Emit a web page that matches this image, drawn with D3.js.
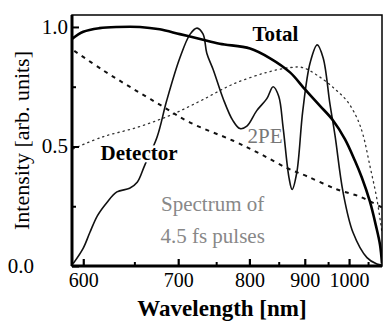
<!DOCTYPE html>
<html>
<head>
<meta charset="utf-8">
<script src="https://cdn.jsdelivr.net/npm/d3@7"></script>
<style>
  body { margin: 0; background: #fff; }
  text { font-family: "Liberation Serif", "DejaVu Serif", serif; }
</style>
</head>
<body>
<div id="data-container"></div>
<script>
// Data (wavelength in nm, intensity in arb. units)
const totalWl = [590, 600, 615, 632, 656, 678, 702, 728, 755, 801, 834, 871, 900, 932, 961, 990, 1015, 1033, 1055, 1072, 1084, 1090]
const totalI  = [0.95, 0.98, 0.995, 1.0, 1.0, 0.99, 0.97, 0.95, 0.93, 0.91, 0.87, 0.81, 0.74, 0.67, 0.61, 0.53, 0.44, 0.37, 0.27, 0.17, 0.09, 0.01]

const detWl = [592, 618, 645, 678, 715, 774, 817, 865, 905, 971, 1028, 1090]
const detI  = [0.90, 0.82, 0.75, 0.675, 0.60, 0.525, 0.47, 0.41, 0.375, 0.32, 0.29, 0.245]

const tpeWl = [591, 618, 653, 690, 728, 774, 829, 871, 896, 932, 966, 995, 1020, 1036, 1055, 1075, 1090]
const tpeI  = [0.49, 0.54, 0.58, 0.63, 0.69, 0.76, 0.81, 0.83, 0.83, 0.79, 0.74, 0.69, 0.62, 0.55, 0.42, 0.28, 0.14]

const specWl = [591, 600, 606, 613, 622, 632, 645, 653, 661, 675, 686, 702, 715, 724, 732, 737, 746, 760, 774, 785, 796, 812, 829, 840, 850, 858, 869, 875, 884, 896, 911, 926, 939, 954, 966, 985, 1010, 1047, 1075, 1090]
const specI  = [0.01, 0.075, 0.14, 0.21, 0.265, 0.31, 0.325, 0.35, 0.42, 0.54, 0.69, 0.87, 0.97, 0.995, 0.97, 0.89, 0.82, 0.70, 0.61, 0.575, 0.585, 0.65, 0.70, 0.75, 0.71, 0.58, 0.37, 0.32, 0.39, 0.65, 0.85, 0.925, 0.87, 0.68, 0.545, 0.31, 0.14, 0.035, 0.008, 0.004]

const majorTicks = [600, 700, 800, 900, 1000]
const minorTicks = [650, 750, 850, 950, 1050]
const yMajor = [0.0, 0.5, 1.0]
const yMinor = [0.25, 0.75]

const svgWidth = 384, svgHeight = 322
const margin = {top: 15, right: 2, bottom: 56, left: 72}
const width = svgWidth - margin.left - margin.right,
      height = svgHeight - margin.top - margin.bottom

var svg = d3.select("#data-container").append("svg")
  .attr("width", svgWidth)
  .attr("height", svgHeight)

var g = svg.append("g")
  .attr("transform", "translate(" + margin.left + "," + margin.top + ")")

// x axis is linear in frequency (1/wavelength), so the scale works on 1000/nm
var xf = d3.scaleLinear().domain([1000 / 590, 1000 / 1090]).range([0, width])
var x = function(wl) { return xf(1000 / wl) }
var y = d3.scaleLinear().domain([0, 1.05]).range([height, 0])

g.append("clipPath").attr("id", "clip")
  .append("rect").attr("width", width).attr("height", height)

var line = d3.line()
  .x(function(d) { return x(d[0]) })
  .y(function(d) { return y(d[1]) })
  .curve(d3.curveCatmullRom.alpha(0.5))

function pairs(a, b) { return a.map(function(v, i) { return [v, b[i]] }) }

var curves = g.append("g").attr("clip-path", "url(#clip)")

// 2PE (dotted)
curves.append("path").datum(pairs(tpeWl, tpeI))
  .attr("d", line).attr("fill", "none")
  .attr("stroke", "#333").attr("stroke-width", 1.3)
  .attr("stroke-dasharray", "1.3,4").attr("stroke-linecap", "round")

// Detector (dashed)
curves.append("path").datum(pairs(detWl, detI))
  .attr("d", line).attr("fill", "none")
  .attr("stroke", "#111").attr("stroke-width", 2)
  .attr("stroke-dasharray", "4,5")

// Spectrum of the pulses (thin solid)
curves.append("path").datum(pairs(specWl, specI))
  .attr("d", line).attr("fill", "none")
  .attr("stroke", "#111").attr("stroke-width", 1.6)

// Total (thick solid)
curves.append("path").datum(pairs(totalWl, totalI))
  .attr("d", line).attr("fill", "none")
  .attr("stroke", "#000").attr("stroke-width", 2.6)

// axes: ticks point inward
g.append("g")
  .attr("transform", "translate(0," + height + ")")
  .call(d3.axisBottom(xf).tickValues(majorTicks.map(function(d) { return 1000 / d }))
    .tickSize(-7).tickPadding(7).tickFormat(function(d) { return Math.round(1000 / d) }))
  .call(function(a) {
    a.select(".domain").remove()
    a.selectAll("line").attr("stroke", "#000").attr("stroke-width", 2.2)
    a.selectAll("text").attr("font-size", 20).attr("fill", "#000")
  })

g.append("g")
  .attr("transform", "translate(0," + height + ")")
  .call(d3.axisBottom(xf).tickValues(minorTicks.map(function(d) { return 1000 / d }))
    .tickSize(-4).tickFormat(""))
  .call(function(a) {
    a.select(".domain").remove()
    a.selectAll("line").attr("stroke", "#000").attr("stroke-width", 2)
  })

g.append("g")
  .call(d3.axisLeft(y).tickValues(yMajor).tickSize(-7).tickPadding(4).tickFormat(d3.format(".1f")))
  .call(function(a) {
    a.select(".domain").remove()
    a.selectAll("line").attr("stroke", "#000").attr("stroke-width", 2)
    a.selectAll("text").attr("font-size", 21).attr("fill", "#000").attr("dy", "0.3em")
    // the 0.0 label sits further left, clear of the 600 label
    a.selectAll("text").filter(function(d) { return d === 0 }).attr("x", -38)
  })

g.append("g")
  .call(d3.axisLeft(y).tickValues(yMinor).tickSize(-4).tickFormat(""))
  .call(function(a) {
    a.select(".domain").remove()
    a.selectAll("line").attr("stroke", "#000").attr("stroke-width", 2)
  })

// frame
g.append("rect")
  .attr("width", width).attr("height", height)
  .attr("fill", "none").attr("stroke", "#000").attr("stroke-width", 1.5)
g.append("line").attr("x1", 0).attr("x2", 0).attr("y1", 0).attr("y2", height)
  .attr("stroke", "#000").attr("stroke-width", 3)
g.append("line").attr("x1", 0).attr("x2", width).attr("y1", height).attr("y2", height)
  .attr("stroke", "#000").attr("stroke-width", 3)

// in-plot labels
function label(txt, wl, v, opts) {
  return g.append("text")
    .attr("x", x(wl)).attr("y", y(v))
    .attr("font-size", opts.size || 17)
    .attr("font-weight", opts.weight || "normal")
    .attr("fill", opts.color || "#000")
    .attr("text-anchor", "middle")
    .attr("stroke", "#fff").attr("stroke-width", opts.halo || 0)
    .attr("paint-order", "stroke")
    .text(txt)
}
label("Total", 844, 0.94, {size: 21, weight: "bold"})
label("Detector", 655, 0.445, {size: 21, weight: "bold", halo: 5})
label("2PE", 826, 0.515, {size: 21, color: "#777"})
label("Spectrum of", 745, 0.23, {size: 21, color: "#888"})
label("4.5 fs pulses", 745, 0.095, {size: 21, color: "#888"})

// axis titles
svg.append("text")
  .attr("transform", "translate(29," + (margin.top + height / 2) + ") rotate(-90)")
  .attr("text-anchor", "middle")
  .attr("font-size", 22)
  .text("Intensity [arb. units]")

svg.append("text")
  .attr("x", 222).attr("y", 316)
  .attr("text-anchor", "middle")
  .attr("font-size", 23).attr("font-weight", "bold")
  .text("Wavelength [nm]")
</script>
</body>
</html>
